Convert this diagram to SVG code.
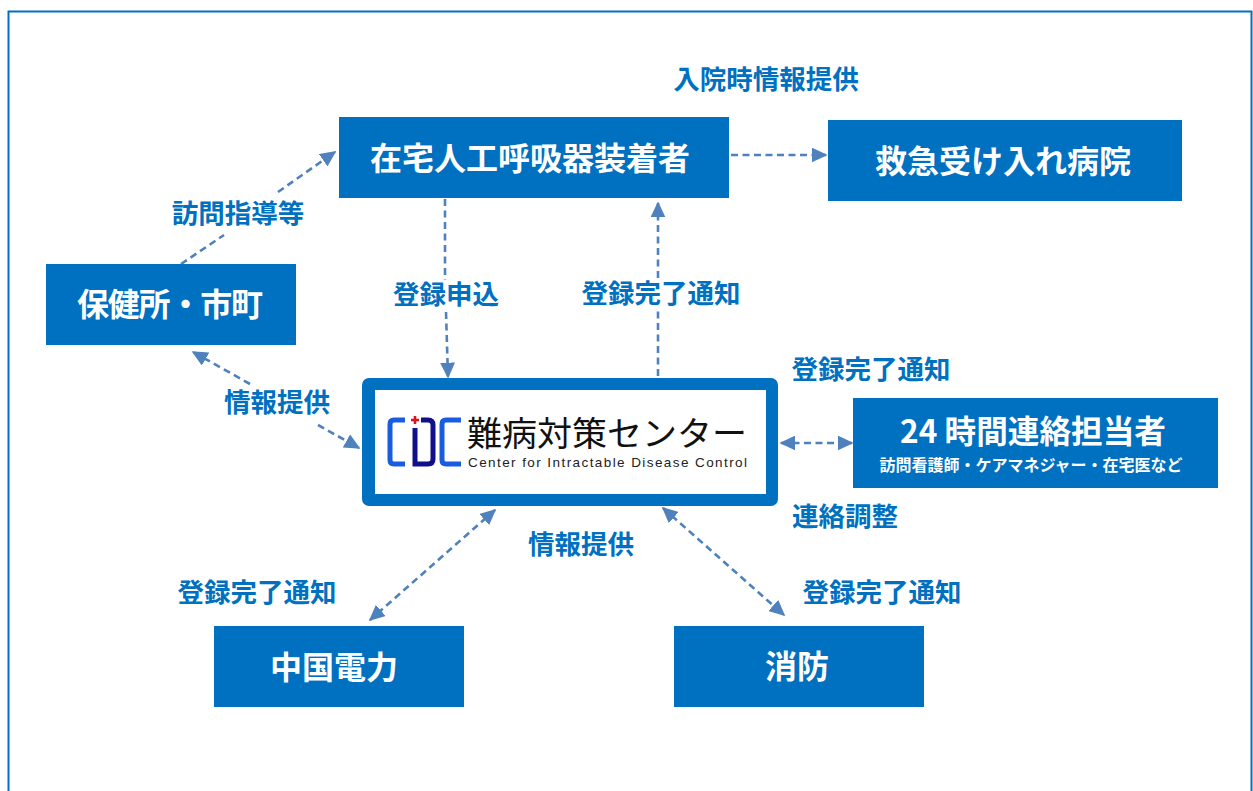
<svg xmlns="http://www.w3.org/2000/svg" width="1253" height="791" viewBox="0 0 1253 791">
<style>
.box{fill:#0070c0}
.jp{font-family:"Noto Sans CJK JP","Noto Sans",sans-serif}
.t{font-size:32px;font-weight:700;fill:#fff;text-anchor:middle}
.l{font-size:26.5px;font-weight:700;fill:#0070c0;text-anchor:middle}
.c{fill:none;stroke:#4f81bd;stroke-width:2.6;stroke-dasharray:7 4.5}
</style>
<defs>
<marker id="a" viewBox="0 0 10 10" refX="9" refY="5" markerWidth="16" markerHeight="15" markerUnits="userSpaceOnUse" orient="auto-start-reverse" preserveAspectRatio="none"><path d="M0 0L10 5L0 10Z" fill="#4f81bd"/></marker>
</defs>
<rect x="8.5" y="11.5" width="1243" height="790" fill="#fff" stroke="#0070c0" stroke-width="2"/>
<g id="connectors">
<path class="c" d="M181 264L224 235"/><path class="c" d="M278 192L335 152" marker-end="url(#a)"/>
<path class="c" d="M731 155H826" marker-end="url(#a)"/>
<path class="c" d="M445 199L445 280"/><path class="c" d="M446 312L448 377" marker-end="url(#a)"/>
<path class="c" d="M658 376V310"/><path class="c" d="M658 278V203" marker-end="url(#a)"/>
<path class="c" d="M250 384L193 352" marker-end="url(#a)"/><path class="c" d="M318 425L359 448" marker-end="url(#a)"/>
<path class="c" d="M781 443H852" marker-start="url(#a)" marker-end="url(#a)"/>
<path class="c" d="M495 510L370 620" marker-start="url(#a)" marker-end="url(#a)"/>
<path class="c" d="M663 508L784 615" marker-start="url(#a)" marker-end="url(#a)"/>
</g>
<g id="node-home"><rect class="box" x="339" y="117" width="390" height="81"/><text class="jp t" x="530" y="170">在宅人工呼吸器装着者</text></g>
<g id="node-hospital"><rect class="box" x="828" y="120" width="354" height="81"/><text class="jp t" x="1003" y="173">救急受け入れ病院</text></g>
<g id="node-public"><rect class="box" x="46" y="264" width="250" height="81"/><text class="jp t" x="170" y="316" textLength="186" lengthAdjust="spacing">保健所・市町</text></g>
<g id="node-center">
<rect x="362" y="378" width="416" height="128" rx="7" fill="#0070c0"/>
<rect x="375" y="390" width="391" height="104" fill="#fff"/>
<g id="logo">
<path d="M405 420H394Q390 420 390 424V460Q390 464 394 464H405" fill="none" stroke="#1a5ce0" stroke-width="5"/>
<path d="M415 428V464H428Q433 464 433 459V425Q433 420 428 420H421" fill="none" stroke="#10108c" stroke-width="5"/>
<path d="M461 420H446Q442 420 442 424V460Q442 464 446 464H461" fill="none" stroke="#1a5ce0" stroke-width="5"/>
<path d="M415 416V424M411 420H419" stroke="#e01020" stroke-width="2.6"/>
<text class="jp" x="467" y="446" font-size="34" fill="#111" textLength="280" lengthAdjust="spacingAndGlyphs">難病対策センター</text>
<text x="468" y="467" font-family="'Liberation Sans',sans-serif" font-size="13.5" fill="#222" textLength="279" lengthAdjust="spacing">Center for Intractable Disease Control</text>
</g>
</g>
<g id="node-24h"><rect class="box" x="853" y="398" width="365" height="90"/>
<text class="jp t" x="1033" y="443" textLength="266" lengthAdjust="spacingAndGlyphs">24 時間連絡担当者</text>
<text class="jp" x="1031" y="471" font-size="16" font-weight="700" fill="#fff" text-anchor="middle">訪問看護師・ケアマネジャー・在宅医など</text></g>
<g id="node-chugoku"><rect class="box" x="214" y="626" width="250" height="81"/><text class="jp t" x="334" y="679">中国電力</text></g>
<g id="node-fire"><rect class="box" x="674" y="626" width="250" height="81"/><text class="jp t" x="797" y="678">消防</text></g>
<g id="labels">
<text class="jp l" x="766" y="89">入院時情報提供</text>
<text class="jp l" x="238" y="223">訪問指導等</text>
<text class="jp l" x="446" y="304">登録申込</text>
<text class="jp l" x="661" y="303">登録完了通知</text>
<text class="jp l" x="871" y="379">登録完了通知</text>
<text class="jp l" x="277" y="412">情報提供</text>
<text class="jp l" x="845" y="526">連絡調整</text>
<text class="jp l" x="581" y="554">情報提供</text>
<text class="jp l" x="257" y="602">登録完了通知</text>
<text class="jp l" x="882" y="602">登録完了通知</text>
</g>
</svg>
